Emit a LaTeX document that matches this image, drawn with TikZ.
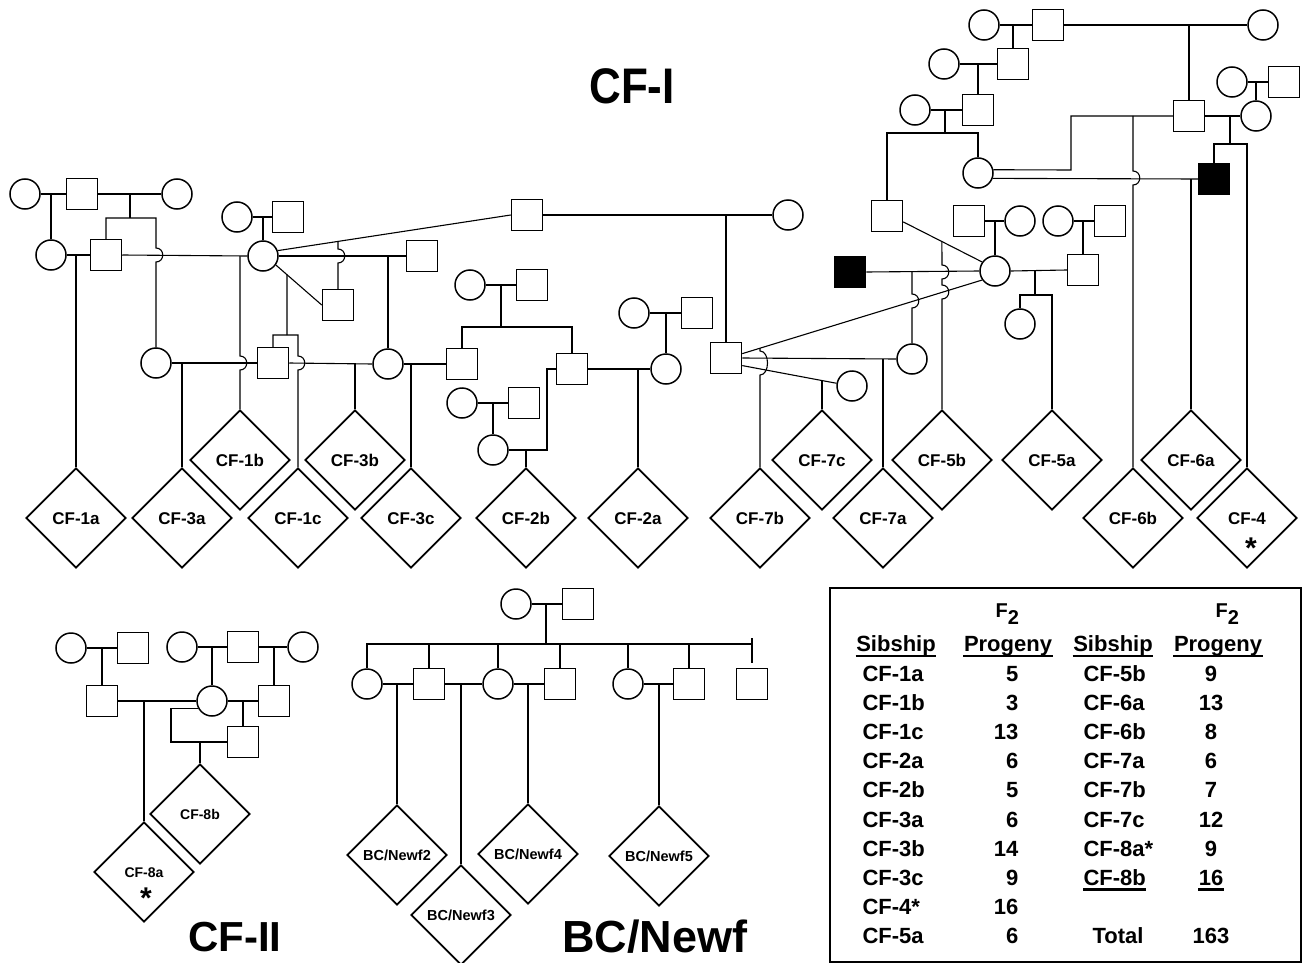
\documentclass[tikz,border=0pt]{standalone}
\usepackage{graphicx}
\usepackage{fontspec}
\setmainfont{Liberation Sans}
\usetikzlibrary{shapes.geometric}

% small bump where a line jumps over another
\newcommand{\hop}[2]{-- (#1,#2-7) .. controls (#1+9,#2-7) and (#1+9,#2+7) .. (#1,#2+7)}

\tikzset{
  fem/.style={circle,draw,line width=1.5pt,minimum size=30pt,inner sep=0pt},
  mal/.style={rectangle,draw,line width=1.5pt,minimum size=31pt,inner sep=0pt},
  aff/.style={mal,fill=black},
  sib/.style={diamond,draw,line width=1.8pt,minimum width=100pt,minimum height=100pt,inner sep=0pt,
    text height=12.2pt,text depth=0pt,font=\bfseries\fontsize{17}{17}\selectfont},
  sibsmall/.style={sib,text height=10pt,font=\bfseries\fontsize{14}{14}\selectfont},
  sibbc/.style={sib,text height=10.4pt,font=\bfseries\fontsize{14.5}{14.5}\selectfont},
  asterisk/.style={anchor=base,inner sep=0pt,font=\bfseries\fontsize{30}{30}\selectfont},
  tab/.style={inner sep=0pt,font=\bfseries\fontsize{22}{22}\selectfont},
  uline/.style={line width=2.2pt},
  heading/.style={inner sep=0pt,font=\bfseries\fontsize{45}{45}\selectfont}
}

\begin{document}
\begin{tikzpicture}[x=1pt,y=-1pt,line width=1.1pt]
\fill[white] (0,0) rectangle (1303,963);
\useasboundingbox (0,0) rectangle (1303,963);

% Headings
\node[heading,font=\bfseries\fontsize{50}{50}\selectfont] (hCFI) at (632,86) {\scalebox{0.88}[1]{CF-I}};
\node[heading,font=\bfseries\fontsize{42}{42}\selectfont] (hCFII) at (235,937) {CF-II};
\node[heading] (hBC) at (655,937) {BC/Newf};

% CF-I, left half
\node[fem] (A1) at (25,194) {};
\node[mal] (S1) at (82,194) {};
\node[fem] (C2) at (177,194) {};
\node[fem] (A2) at (51,255) {};
\node[mal] (S2) at (106,255) {};
\node[fem] (C3) at (156,363) {};
\node[fem] (M1) at (237,217) {};
\node[mal] (M2) at (288,217) {};
\node[fem] (C4) at (263,256) {};
\node[mal] (S4) at (422,256) {};
\node[mal] (S5) at (338,305) {};
\node[mal] (S3) at (273,363) {};
\node[fem] (C5) at (388,364) {};
\node[mal] (S6) at (462,364) {};
\node[fem] (C6) at (470,285) {};
\node[mal] (S7) at (532,285) {};
\node[mal] (S8) at (572,369) {};
\node[fem] (C7) at (462,403) {};
\node[mal] (S9) at (524,403) {};
\node[fem] (C8) at (493,450) {};
\node[fem] (C9) at (634,313) {};
\node[mal] (S10) at (697,313) {};
\node[fem] (C10) at (666,369) {};
\node[mal] (T1) at (527,215) {};
\node[fem] (T1w) at (788,215) {};
\node[mal] (T2) at (726,358) {};

% CF-I, right half
\node[aff] (B1) at (850,272) {};
\node[mal] (U1) at (887,216) {};
\node[mal] (U2) at (969,221) {};
\node[fem] (V1) at (1020,221) {};
\node[fem] (D1) at (995,271) {};
\node[fem] (V2) at (1058,221) {};
\node[mal] (V3) at (1110,221) {};
\node[mal] (W1) at (1083,270) {};
\node[fem] (X1) at (1020,324) {};
\node[fem] (E1) at (912,359) {};
\node[fem] (E2) at (852,386) {};
\node[fem] (F1) at (984,25) {};
\node[mal] (F2) at (1048,25) {};
\node[fem] (F3) at (1263,25) {};
\node[fem] (F5) at (944,64) {};
\node[mal] (F4) at (1013,64) {};
\node[fem] (F7) at (915,110) {};
\node[mal] (F6) at (978,110) {};
\node[fem] (H1) at (978,173) {};
\node[mal] (G1) at (1189,116) {};
\node[fem] (K1) at (1232,82) {};
\node[mal] (K2) at (1284,82) {};
\node[fem] (K3) at (1256,116) {};
\node[aff] (B2) at (1214,179) {};

% CF-I sibships
\node[sib] (CF1b) at (240,460) {CF-1b};
\node[sib] (CF3b) at (355,460) {CF-3b};
\node[sib] (CF7c) at (822,460) {CF-7c};
\node[sib] (CF5b) at (942,460) {CF-5b};
\node[sib] (CF5a) at (1052,460) {CF-5a};
\node[sib] (CF6a) at (1191,460) {CF-6a};
\node[sib] (CF1a) at (76,518) {CF-1a};
\node[sib] (CF3a) at (182,518) {CF-3a};
\node[sib] (CF1c) at (298,518) {CF-1c};
\node[sib] (CF3c) at (411,518) {CF-3c};
\node[sib] (CF2b) at (526,518) {CF-2b};
\node[sib] (CF2a) at (638,518) {CF-2a};
\node[sib] (CF7b) at (760,518) {CF-7b};
\node[sib] (CF7a) at (883,518) {CF-7a};
\node[sib] (CF6b) at (1133,518) {CF-6b};
\node[sib] (CF4) at (1247,518) {CF-4};
\node[asterisk] (st4) at (1251,558) {*};

% CF-I lines, left
\draw (A1.east) -- (S1.west);
\draw (S1.east) -- (C2.west);
\draw (A2.north) -- (A2.north |- A1.east);
\draw (130,194) -- (130,218);
\draw (S2.north) |- (156,218) \hop{156}{255} -- (C3.north);
\draw (A2.east) -- (S2.west);
\draw (CF1a.north) -- (CF1a.north |- A2.east);
\draw (S2.east) -- (C4.west);
\draw (240,256) \hop{240}{363} -- (CF1b.north);
\draw (M1.east) -- (M2.west);
\draw (C4.north) -- (C4.north |- M1.east);
\draw (C4.east) -- (S4.west);
\draw (C5.north) -- (C5.north |- C4.east);
\draw (C4.20) -- (T1.west);
\path (C4.20) -- (T1.west) coordinate[pos=0.26] (d1);
\draw (S5.north |- d1) \hop{338}{256} -- (S5.north);
\draw (C4.-35) -- (S5.west);
\path (C4.-35) -- (S5.west) coordinate[pos=0.242] (d2);
\draw (d2) -- (287,335);
\draw (S3.north) |- (298,335) \hop{298}{363} -- (CF1c.north);
\draw (C3.east) -- (S3.west);
\draw (CF3a.north) -- (CF3a.north |- C3.east);
\draw (S3.east) -- (C5.west);
\draw (CF3b.north) -- (CF3b.north |- S3.east);
\draw (C5.east) -- (S6.west);
\draw (CF3c.north) -- (CF3c.north |- C5.east);
\draw (C6.east) -- (S7.west);
\draw (501,285) -- (501,327);
\draw (S6.north) |- (572,327) -- (S8.north);
\draw (C7.east) -- (S9.west);
\draw (C8.north) -- (C8.north |- C7.east);
\draw (C8.east) -- (547,450) -- (547,369) -- (S8.west);
\draw (CF2b.north) -- (CF2b.north |- C8.east);
\draw (S8.east) -- (C10.west);
\draw (CF2a.north) -- (CF2a.north |- S8.east);
\draw (C9.east) -- (S10.west);
\draw (C10.north) -- (C10.north |- C9.east);
\draw (T1.east) -- (T1w.west);
\draw (T2.north) -- (T2.north |- T1.east);

% CF-I lines, right
\draw (F1.east) -- (F2.west);
\draw (F4.north) -- (F4.north |- F1.east);
\draw (F2.east) -- (F3.west);
\draw (G1.north) -- (G1.north |- F2.east);
\draw (F5.east) -- (F4.west);
\draw (F6.north) -- (F6.north |- F5.east);
\draw (F7.east) -- (F6.west);
\draw (945,110) -- (945,133);
\draw (U1.north) |- (978,133) -- (H1.north);
\draw (H1.12) -- (1071,170) -- (1071,116) -- (G1.west);
\draw (1133,116) \hop{1133}{178} -- (CF6b.north);
\draw (H1.-20) -- (B2.west);
\draw (CF6a.north) -- (CF6a.north |- B2.west);
\draw (K1.east) -- (K2.west);
\draw (K3.north) -- (K3.north |- K1.east);
\draw (G1.east) -- (K3.west);
\draw (1230,116) -- (1230,144);
\draw (B2.north) |- (1247,144) -- (CF4.north);
\draw (U2.east) -- (V1.west);
\draw (D1.north) -- (D1.north |- U2.east);
\draw (V2.east) -- (V3.west);
\draw (W1.north) -- (W1.north |- V2.east);
\draw (D1.east) -- (W1.west);
\draw (1035,270) -- (1035,295);
\draw (X1.north) |- (1052,295) -- (CF5a.north);
\draw (U1.-20) -- (D1.145);
\path (U1.-20) -- (D1.145) coordinate[pos=0.49] (d3);
\draw (d3) \hop{942}{272} \hop{942}{292} -- (CF5b.north);
\draw (B1.east) -- (D1.west);
\draw (912,272) \hop{912}{301} -- (E1.north);
\draw (T2.15) -- (D1.215);
\path (T2.15) -- (D1.215) coordinate[pos=0.074] (d4);
\draw (d4) -- (760,351) .. controls (770,351) and (770,375) .. (760,375) -- (CF7b.north);
\draw (T2.east) -- (E1.west);
\draw (CF7a.north) -- (CF7a.north |- E1.west);
\draw (T2.-25) -- (E2.170);
\path (T2.-25) -- (E2.170) coordinate[pos=0.84] (d5);
\draw (CF7c.north) -- (CF7c.north |- d5);

% CF-II
\node[fem] (P1) at (71,648) {};
\node[mal] (P2) at (133,648) {};
\node[mal] (P3) at (102,701) {};
\node[fem] (P4) at (182,647) {};
\node[mal] (P5) at (243,647) {};
\node[fem] (P6) at (303,647) {};
\node[fem] (P7) at (212,701) {};
\node[mal] (P8) at (274,701) {};
\node[mal] (P9) at (243,742) {};
\node[sibsmall] (CF8b) at (200,814) {CF-8b};
\node[sibsmall] (CF8a) at (144,872) {CF-8a};
\node[asterisk] (st8) at (146,908) {*};
\draw (P1.east) -- (P2.west);
\draw (P3.north) -- (P3.north |- P1.east);
\draw (P4.east) -- (P5.west);
\draw (P7.north) -- (P7.north |- P4.east);
\draw (P5.east) -- (P6.west);
\draw (P8.north) -- (P8.north |- P5.east);
\draw (P3.east) -- (P7.west);
\draw (CF8a.north) -- (CF8a.north |- P3.east);
\draw (P7.east) -- (P8.west);
\draw (P9.north) -- (P9.north |- P7.east);
\draw (P7.-152) -| (171,742) -- (P9.west);
\draw (CF8b.north) -- (CF8b.north |- P9.west);

% BC/Newf
\node[fem] (Q1) at (516,604) {};
\node[mal] (Q2) at (578,604) {};
\node[fem] (R1) at (367,684) {};
\node[mal] (R2) at (429,684) {};
\node[fem] (R3) at (498,684) {};
\node[mal] (R4) at (560,684) {};
\node[fem] (R5) at (628,684) {};
\node[mal] (R6) at (689,684) {};
\node[mal] (R7) at (752,684) {};
\node[sibbc] (BN2) at (397,855) {BC/Newf2};
\node[sibbc] (BN3) at (461,915) {BC/Newf3};
\node[sibbc] (BN4) at (528,854) {BC/Newf4};
\node[sibbc] (BN5) at (659,856) {BC/Newf5};
\draw (Q1.east) -- (Q2.west);
\draw (546,604) -- (546,644);
\draw (R1.north) |- (752,644);
\draw (752,638) -- (752,663);
\foreach \k in {R2,R3,R4,R5,R6}
  \draw (\k.north) -- (\k.north |- 0,644);
\draw (R1.east) -- (R2.west);
\draw (BN2.north) -- (BN2.north |- R1.east);
\draw (R2.east) -- (R3.west);
\draw (BN3.north) -- (BN3.north |- R2.east);
\draw (R3.east) -- (R4.west);
\draw (BN4.north) -- (BN4.north |- R3.east);
\draw (R5.east) -- (R6.west);
\draw (BN5.north) -- (BN5.north |- R5.east);

% Table of F2 progeny
\node[draw,line width=2.8pt,minimum width=471pt,minimum height=374pt,inner sep=0pt] (tbox) at (1065.5,775) {};
\node[tab,anchor=base west,font=\bfseries\fontsize{20}{20}\selectfont] (f2a) at (995,617) {F\raisebox{-7pt}{2}};
\node[tab,anchor=base west,font=\bfseries\fontsize{20}{20}\selectfont] (f2b) at (1215,617) {F\raisebox{-7pt}{2}};
\node[tab,anchor=base] (hs1) at (896,651) {Sibship};
\node[tab,anchor=base] (hp1) at (1008,651) {Progeny};
\node[tab,anchor=base] (hs2) at (1113,651) {Sibship};
\node[tab,anchor=base] (hp2) at (1218,651) {Progeny};
\foreach \h in {hs1,hp1,hs2,hp2}
  \draw[uline] ([yshift=-5pt]\h.base west) -- ([yshift=-5pt]\h.base east);
\foreach \lab/\num [count=\i] in {CF-1a/5,CF-1b/3,CF-1c/13,CF-2a/6,CF-2b/5,CF-3a/6,CF-3b/14,CF-3c/9,CF-4*/16,CF-5a/6} {
  \node[tab,anchor=base west] (la\i) at (862,{681+29.2*(\i-1)}) {\lab};
  \node[tab,anchor=base east] (na\i) at (1019,{681+29.2*(\i-1)}) {\num};
}
\foreach \lab/\num [count=\i] in {CF-5b/9,CF-6a/13,CF-6b/8,CF-7a/6,CF-7b/7,CF-7c/12,CF-8a*/9,CF-8b/16} {
  \node[tab,anchor=base west] (lb\i) at (1083,{681+29.2*(\i-1)}) {\lab};
  \node[tab,anchor=base] (nb\i) at (1211,{681+29.2*(\i-1)}) {\num};
}
\draw[uline] ([yshift=-4pt]lb8.base west) -- ([yshift=-4pt]lb8.base east);
\draw[uline] ([yshift=-4pt]nb8.base west) -- ([yshift=-4pt]nb8.base east);
\node[tab,anchor=base] (tot) at (1118,943.8) {Total};
\node[tab,anchor=base] (totn) at (1211,943.8) {163};
\end{tikzpicture}
\end{document}
